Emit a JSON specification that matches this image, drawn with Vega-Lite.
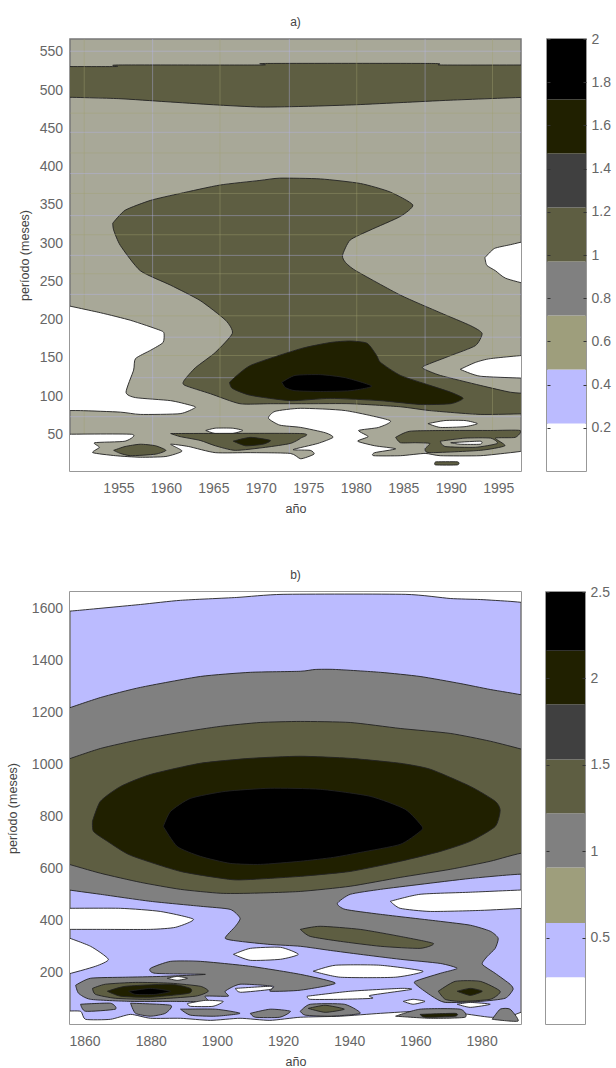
{"$schema":"https://vega.github.io/schema/vega-lite/v6.json","background":"white","padding":{"left":5,"top":14,"right":0,"bottom":0},
"config":{"view":{"stroke":"#777777","strokeWidth":1.5},"font":"Liberation Sans","axis":{"grid":false,"domain":false,"ticks":false,"labelFont":"Liberation Sans","titleFont":"Liberation Sans","labelFontSize":14,"titleFontSize":12.5,"labelColor":"#666666","titleColor":"#444444","titleFontWeight":"normal"},"title":{"fontSize":12,"fontWeight":"normal","color":"#444444","font":"Liberation Sans"}},
"datasets":{
"gridX":[{"year":1951.4,"tone":"o"},{"year":1958.6,"tone":"b"},{"year":1965.7,"tone":"o"},{"year":1973,"tone":"b"},{"year":1980.1,"tone":"o"},{"year":1987.3,"tone":"b"},{"year":1994.4,"tone":"o"}],
"gridY":[{"period":551,"tone":"b"},{"period":445,"tone":"b"},{"period":391,"tone":"b"},{"period":336,"tone":"b"},{"period":284,"tone":"b"},{"period":233,"tone":"b"},{"period":177,"tone":"b"},{"period":124,"tone":"b"},{"period":73,"tone":"b"},{"period":470,"tone":"o"},{"period":418,"tone":"o"},{"period":365,"tone":"o"},{"period":311,"tone":"o"},{"period":260,"tone":"o"},{"period":205,"tone":"o"},{"period":153,"tone":"o"}],
"a1":[
{"shape":"t","level":"olive","year":1949,"period":531},{"shape":"t","level":"olive","year":1954.8,"period":531},{"shape":"t","level":"olive","year":1955,"period":533},{"shape":"t","level":"olive","year":1970,"period":533},{"shape":"t","level":"olive","year":1970.5,"period":535},{"shape":"t","level":"olive","year":1988,"period":535},{"shape":"t","level":"olive","year":1989,"period":533},{"shape":"t","level":"olive","year":1998.5,"period":533},{"shape":"t","level":"olive","year":2003,"period":533},{"shape":"t","level":"olive","year":2003,"period":491},{"shape":"t","level":"olive","year":1998.5,"period":491},{"shape":"t","level":"olive","year":1990,"period":487},{"shape":"t","level":"olive","year":1985,"period":484},{"shape":"t","level":"olive","year":1980,"period":481},{"shape":"t","level":"olive","year":1975,"period":479},{"shape":"t","level":"olive","year":1970,"period":478},{"shape":"t","level":"olive","year":1965,"period":481},{"shape":"t","level":"olive","year":1960,"period":485},{"shape":"t","level":"olive","year":1955,"period":489},{"shape":"t","level":"olive","year":1949,"period":491},{"shape":"t","level":"olive","year":1945,"period":491},{"shape":"t","level":"olive","year":1945,"period":531},{"shape":"t","level":"olive","year":1949,"period":531},
{"shape":"m","level":"olive","year":1954.4,"period":326},{"shape":"m","level":"olive","year":1955.7,"period":343},{"shape":"m","level":"olive","year":1958.4,"period":356},{"shape":"m","level":"olive","year":1961.5,"period":365},{"shape":"m","level":"olive","year":1965.7,"period":376},{"shape":"m","level":"olive","year":1969.9,"period":382},{"shape":"m","level":"olive","year":1972,"period":385},{"shape":"m","level":"olive","year":1976.3,"period":384},{"shape":"m","level":"olive","year":1980.5,"period":378},{"shape":"m","level":"olive","year":1983.6,"period":367},{"shape":"m","level":"olive","year":1986,"period":350},{"shape":"m","level":"olive","year":1984.7,"period":335},{"shape":"m","level":"olive","year":1981.5,"period":317},{"shape":"m","level":"olive","year":1979.4,"period":304},{"shape":"m","level":"olive","year":1978.6,"period":284},{"shape":"m","level":"olive","year":1978.9,"period":275},{"shape":"m","level":"olive","year":1980,"period":264},{"shape":"m","level":"olive","year":1984.7,"period":232},{"shape":"m","level":"olive","year":1988.9,"period":209},{"shape":"m","level":"olive","year":1992.1,"period":192},{"shape":"m","level":"olive","year":1993.3,"period":182},{"shape":"m","level":"olive","year":1992.6,"period":166},{"shape":"m","level":"olive","year":1990,"period":153},{"shape":"m","level":"olive","year":1987.3,"period":140},{"shape":"m","level":"olive","year":1987.1,"period":136},{"shape":"m","level":"olive","year":1988.9,"period":127},{"shape":"m","level":"olive","year":1993.1,"period":114},{"shape":"m","level":"olive","year":1996.3,"period":105},{"shape":"m","level":"olive","year":1998.5,"period":103},{"shape":"m","level":"olive","year":2003,"period":100},{"shape":"m","level":"olive","year":2003,"period":77},{"shape":"m","level":"olive","year":1998.5,"period":77},{"shape":"m","level":"olive","year":1993.1,"period":76},{"shape":"m","level":"olive","year":1987.8,"period":81},{"shape":"m","level":"olive","year":1984.7,"period":86},{"shape":"m","level":"olive","year":1979.4,"period":90},{"shape":"m","level":"olive","year":1975.2,"period":90},{"shape":"m","level":"olive","year":1971,"period":90},{"shape":"m","level":"olive","year":1967.8,"period":90},{"shape":"m","level":"olive","year":1964.7,"period":103},{"shape":"m","level":"olive","year":1962,"period":114},{"shape":"m","level":"olive","year":1961.9,"period":120},{"shape":"m","level":"olive","year":1963.1,"period":137},{"shape":"m","level":"olive","year":1965.2,"period":157},{"shape":"m","level":"olive","year":1967,"period":182},{"shape":"m","level":"olive","year":1966.3,"period":199},{"shape":"m","level":"olive","year":1963.6,"period":225},{"shape":"m","level":"olive","year":1960.5,"period":245},{"shape":"m","level":"olive","year":1957.3,"period":264},{"shape":"m","level":"olive","year":1955.2,"period":297},{"shape":"m","level":"olive","year":1954.5,"period":317},{"shape":"m","level":"olive","year":1954.4,"period":326}
],
"a2":[
{"shape":"d","level":"deep","year":1966.7,"period":118},{"shape":"d","level":"deep","year":1968.9,"period":140},{"shape":"d","level":"deep","year":1974.2,"period":162},{"shape":"d","level":"deep","year":1977.3,"period":170},{"shape":"d","level":"deep","year":1979.4,"period":172},{"shape":"d","level":"deep","year":1981.2,"period":169},{"shape":"d","level":"deep","year":1982.2,"period":153},{"shape":"d","level":"deep","year":1982.6,"period":144},{"shape":"d","level":"deep","year":1984.7,"period":127},{"shape":"d","level":"deep","year":1987.8,"period":114},{"shape":"d","level":"deep","year":1990,"period":105},{"shape":"d","level":"deep","year":1991.3,"period":97},{"shape":"d","level":"deep","year":1990,"period":90},{"shape":"d","level":"deep","year":1986.8,"period":89},{"shape":"d","level":"deep","year":1982.6,"period":94},{"shape":"d","level":"deep","year":1977.3,"period":97},{"shape":"d","level":"deep","year":1973.1,"period":94},{"shape":"d","level":"deep","year":1968.9,"period":101},{"shape":"d","level":"deep","year":1967,"period":110},{"shape":"d","level":"deep","year":1966.7,"period":118},
{"shape":"k","level":"black","year":1972.2,"period":118},{"shape":"k","level":"black","year":1973.6,"period":127},{"shape":"k","level":"black","year":1976.3,"period":128},{"shape":"k","level":"black","year":1978.9,"period":124},{"shape":"k","level":"black","year":1981.7,"period":113},{"shape":"k","level":"black","year":1979.4,"period":107},{"shape":"k","level":"black","year":1976.3,"period":106},{"shape":"k","level":"black","year":1973.6,"period":107},{"shape":"k","level":"black","year":1972.6,"period":111},{"shape":"k","level":"black","year":1972.2,"period":118},
{"shape":"wl","level":"white","year":1949,"period":220},{"shape":"wl","level":"white","year":1953.1,"period":209},{"shape":"wl","level":"white","year":1956.3,"period":199},{"shape":"wl","level":"white","year":1959.4,"period":186},{"shape":"wl","level":"white","year":1959.8,"period":182},{"shape":"wl","level":"white","year":1959.7,"period":170},{"shape":"wl","level":"white","year":1958.4,"period":160},{"shape":"wl","level":"white","year":1956.8,"period":149},{"shape":"wl","level":"white","year":1956.6,"period":134},{"shape":"wl","level":"white","year":1955.8,"period":105},{"shape":"wl","level":"white","year":1956.8,"period":98},{"shape":"wl","level":"white","year":1960.5,"period":94},{"shape":"wl","level":"white","year":1962.6,"period":88},{"shape":"wl","level":"white","year":1963.1,"period":85},{"shape":"wl","level":"white","year":1961.5,"period":77},{"shape":"wl","level":"white","year":1957.3,"period":76},{"shape":"wl","level":"white","year":1955.2,"period":79},{"shape":"wl","level":"white","year":1951,"period":81},{"shape":"wl","level":"white","year":1949,"period":81},{"shape":"wl","level":"white","year":1945,"period":81},{"shape":"wl","level":"white","year":1945,"period":225},{"shape":"wl","level":"white","year":1949,"period":220},
{"shape":"wb","level":"white","year":1949,"period":50},{"shape":"wb","level":"white","year":1956.4,"period":50},{"shape":"wb","level":"white","year":1955.7,"period":41},{"shape":"wb","level":"white","year":1952.5,"period":39},{"shape":"wb","level":"white","year":1953,"period":33},{"shape":"wb","level":"white","year":1952.3,"period":26},{"shape":"wb","level":"white","year":1954.7,"period":22},{"shape":"wb","level":"white","year":1957.3,"period":20},{"shape":"wb","level":"white","year":1960,"period":21},{"shape":"wb","level":"white","year":1961.7,"period":28},{"shape":"wb","level":"white","year":1960.5,"period":37},{"shape":"wb","level":"white","year":1962.4,"period":34},{"shape":"wb","level":"white","year":1965.2,"period":26},{"shape":"wb","level":"white","year":1968.9,"period":26},{"shape":"wb","level":"white","year":1973.1,"period":25},{"shape":"wb","level":"white","year":1974.2,"period":18},{"shape":"wb","level":"white","year":1975.6,"period":24},{"shape":"wb","level":"white","year":1975.2,"period":29},{"shape":"wb","level":"white","year":1973.4,"period":30},{"shape":"wb","level":"white","year":1976,"period":38},{"shape":"wb","level":"white","year":1977.6,"period":46},{"shape":"wb","level":"white","year":1976.8,"period":52},{"shape":"wb","level":"white","year":1974.2,"period":59},{"shape":"wb","level":"white","year":1972,"period":62},{"shape":"wb","level":"white","year":1970.8,"period":71},{"shape":"wb","level":"white","year":1971.5,"period":80},{"shape":"wb","level":"white","year":1974.2,"period":84},{"shape":"wb","level":"white","year":1978.9,"period":81},{"shape":"wb","level":"white","year":1983.6,"period":68},{"shape":"wb","level":"white","year":1982.4,"period":59},{"shape":"wb","level":"white","year":1980.3,"period":55},{"shape":"wb","level":"white","year":1981.3,"period":47},{"shape":"wb","level":"white","year":1980.2,"period":41},{"shape":"wb","level":"white","year":1982,"period":35},{"shape":"wb","level":"white","year":1984.2,"period":31},{"shape":"wb","level":"white","year":1982,"period":26},{"shape":"wb","level":"white","year":1981.9,"period":22},{"shape":"wb","level":"white","year":1984.7,"period":22},{"shape":"wb","level":"white","year":1987.3,"period":25},{"shape":"wb","level":"white","year":1988.9,"period":22},{"shape":"wb","level":"white","year":1993.1,"period":22},{"shape":"wb","level":"white","year":1996.3,"period":26},{"shape":"wb","level":"white","year":1998.5,"period":29},{"shape":"wb","level":"white","year":2003,"period":31},{"shape":"wb","level":"white","year":2003,"period":-10},{"shape":"wb","level":"white","year":1945,"period":-10},{"shape":"wb","level":"white","year":1945,"period":50},{"shape":"wb","level":"white","year":1949,"period":50},
{"shape":"w1","level":"white","year":1964.2,"period":55},{"shape":"w1","level":"white","year":1965.2,"period":58},{"shape":"w1","level":"white","year":1967,"period":58},{"shape":"w1","level":"white","year":1968.1,"period":55},{"shape":"w1","level":"white","year":1967,"period":51},{"shape":"w1","level":"white","year":1965.2,"period":51},{"shape":"w1","level":"white","year":1964.2,"period":55},
{"shape":"w2","level":"white","year":1987.6,"period":64},{"shape":"w2","level":"white","year":1989.4,"period":68},{"shape":"w2","level":"white","year":1991.5,"period":68},{"shape":"w2","level":"white","year":1992.8,"period":64},{"shape":"w2","level":"white","year":1991.5,"period":60},{"shape":"w2","level":"white","year":1988.9,"period":59},{"shape":"w2","level":"white","year":1987.6,"period":64},
{"shape":"w3","level":"white","year":1991,"period":135},{"shape":"w3","level":"white","year":1992.6,"period":144},{"shape":"w3","level":"white","year":1994.2,"period":149},{"shape":"w3","level":"white","year":1998.5,"period":154},{"shape":"w3","level":"white","year":2003,"period":155},{"shape":"w3","level":"white","year":2003,"period":120},{"shape":"w3","level":"white","year":1998.5,"period":123},{"shape":"w3","level":"white","year":1993.1,"period":126},{"shape":"w3","level":"white","year":1991,"period":135},
{"shape":"w4","level":"white","year":1993.6,"period":281},{"shape":"w4","level":"white","year":1994.6,"period":293},{"shape":"w4","level":"white","year":1996.3,"period":298},{"shape":"w4","level":"white","year":1998.5,"period":304},{"shape":"w4","level":"white","year":2003,"period":310},{"shape":"w4","level":"white","year":2003,"period":235},{"shape":"w4","level":"white","year":1998.5,"period":245},{"shape":"w4","level":"white","year":1995.8,"period":254},{"shape":"w4","level":"white","year":1994.7,"period":264},{"shape":"w4","level":"white","year":1993.8,"period":271},{"shape":"w4","level":"white","year":1993.6,"period":281},
{"shape":"o1","level":"olive","year":1954.5,"period":29},{"shape":"o1","level":"olive","year":1955.7,"period":34},{"shape":"o1","level":"olive","year":1957.3,"period":37},{"shape":"o1","level":"olive","year":1958.9,"period":35},{"shape":"o1","level":"olive","year":1960,"period":29},{"shape":"o1","level":"olive","year":1958.9,"period":24},{"shape":"o1","level":"olive","year":1956.3,"period":22},{"shape":"o1","level":"olive","year":1955.2,"period":25},{"shape":"o1","level":"olive","year":1954.5,"period":29},
{"shape":"o2","level":"olive","year":1960.5,"period":51},{"shape":"o2","level":"olive","year":1974.2,"period":51},{"shape":"o2","level":"olive","year":1974.2,"period":45},{"shape":"o2","level":"olive","year":1973.1,"period":38},{"shape":"o2","level":"olive","year":1970.5,"period":33},{"shape":"o2","level":"olive","year":1967.3,"period":29},{"shape":"o2","level":"olive","year":1965.2,"period":35},{"shape":"o2","level":"olive","year":1963.6,"period":42},{"shape":"o2","level":"olive","year":1961.5,"period":47},{"shape":"o2","level":"olive","year":1960.5,"period":51},
{"shape":"d2","level":"deep","year":1967.1,"period":41},{"shape":"d2","level":"deep","year":1968.9,"period":46},{"shape":"d2","level":"deep","year":1971,"period":42},{"shape":"d2","level":"deep","year":1970.2,"period":37},{"shape":"d2","level":"deep","year":1968.4,"period":35},{"shape":"d2","level":"deep","year":1967.1,"period":41},
{"shape":"o3","level":"olive","year":1984.2,"period":46},{"shape":"o3","level":"olive","year":1985.7,"period":54},{"shape":"o3","level":"olive","year":1990,"period":55},{"shape":"o3","level":"olive","year":1994.2,"period":55},{"shape":"o3","level":"olive","year":1997.3,"period":55},{"shape":"o3","level":"olive","year":1996.8,"period":46},{"shape":"o3","level":"olive","year":1994.7,"period":45},{"shape":"o3","level":"olive","year":1995.7,"period":35},{"shape":"o3","level":"olive","year":1993.1,"period":29},{"shape":"o3","level":"olive","year":1987.8,"period":26},{"shape":"o3","level":"olive","year":1987.3,"period":31},{"shape":"o3","level":"olive","year":1987.8,"period":38},{"shape":"o3","level":"olive","year":1986.3,"period":39},{"shape":"o3","level":"olive","year":1984.7,"period":39},{"shape":"o3","level":"olive","year":1984.2,"period":46},
{"shape":"b3","level":"paper","year":1988.9,"period":41},{"shape":"b3","level":"paper","year":1991.5,"period":45},{"shape":"b3","level":"paper","year":1994.2,"period":45},{"shape":"b3","level":"paper","year":1994.9,"period":38},{"shape":"b3","level":"paper","year":1992.6,"period":33},{"shape":"b3","level":"paper","year":1989.4,"period":34},{"shape":"b3","level":"paper","year":1988.9,"period":41},
{"shape":"w5","level":"white","year":1990,"period":39},{"shape":"w5","level":"white","year":1993.1,"period":41},{"shape":"w5","level":"white","year":1993.1,"period":37},{"shape":"w5","level":"white","year":1991,"period":37},{"shape":"w5","level":"white","year":1990,"period":39},
{"shape":"o4","level":"olive","year":1988.4,"period":14},{"shape":"o4","level":"olive","year":1990.7,"period":14},{"shape":"o4","level":"olive","year":1990.7,"period":10},{"shape":"o4","level":"olive","year":1988.4,"period":10},{"shape":"o4","level":"olive","year":1988.4,"period":14}
],
"b":[
{"shape":"wt","level":"white","year":1854,"period":1588},{"shape":"wt","level":"white","year":1857.9,"period":1592},{"shape":"wt","level":"white","year":1876.9,"period":1615},{"shape":"wt","level":"white","year":1889,"period":1631},{"shape":"wt","level":"white","year":1906,"period":1642},{"shape":"wt","level":"white","year":1920,"period":1654},{"shape":"wt","level":"white","year":1956.9,"period":1654},{"shape":"wt","level":"white","year":1970.5,"period":1638},{"shape":"wt","level":"white","year":1979.6,"period":1634},{"shape":"wt","level":"white","year":1988.6,"period":1627},{"shape":"wt","level":"white","year":1993,"period":1622},{"shape":"wt","level":"white","year":2002,"period":1610},{"shape":"wt","level":"white","year":2002,"period":1690},{"shape":"wt","level":"white","year":1845,"period":1690},{"shape":"wt","level":"white","year":1845,"period":1575},{"shape":"wt","level":"white","year":1854,"period":1588},
{"shape":"g","level":"gray","year":1854,"period":1211},{"shape":"g","level":"gray","year":1864.8,"period":1257},{"shape":"g","level":"gray","year":1876.9,"period":1296},{"shape":"g","level":"gray","year":1895,"period":1338},{"shape":"g","level":"gray","year":1910.1,"period":1354},{"shape":"g","level":"gray","year":1925.2,"period":1358},{"shape":"g","level":"gray","year":1929.7,"period":1365},{"shape":"g","level":"gray","year":1935.8,"period":1365},{"shape":"g","level":"gray","year":1949.4,"period":1354},{"shape":"g","level":"gray","year":1961.4,"period":1338},{"shape":"g","level":"gray","year":1973.5,"period":1311},{"shape":"g","level":"gray","year":1982.6,"period":1288},{"shape":"g","level":"gray","year":1993,"period":1265},{"shape":"g","level":"gray","year":2002,"period":1235},{"shape":"g","level":"gray","year":2002,"period":560},{"shape":"g","level":"gray","year":1993,"period":578},{"shape":"g","level":"gray","year":1976.6,"period":561},{"shape":"g","level":"gray","year":1961.4,"period":538},{"shape":"g","level":"gray","year":1949.4,"period":519},{"shape":"g","level":"gray","year":1940.3,"period":500},{"shape":"g","level":"gray","year":1936.4,"period":465},{"shape":"g","level":"gray","year":1938.8,"period":442},{"shape":"g","level":"gray","year":1949.4,"period":423},{"shape":"g","level":"gray","year":1967.5,"period":396},{"shape":"g","level":"gray","year":1976.6,"period":381},{"shape":"g","level":"gray","year":1982.6,"period":358},{"shape":"g","level":"gray","year":1985,"period":331},{"shape":"g","level":"gray","year":1984.1,"period":292},{"shape":"g","level":"gray","year":1981.7,"period":261},{"shape":"g","level":"gray","year":1980.2,"period":231},{"shape":"g","level":"gray","year":1984.1,"period":196},{"shape":"g","level":"gray","year":1988.6,"period":154},{"shape":"g","level":"gray","year":1989.5,"period":134},{"shape":"g","level":"gray","year":1987.1,"period":100},{"shape":"g","level":"gray","year":1979.6,"period":88},{"shape":"g","level":"gray","year":1969,"period":84},{"shape":"g","level":"gray","year":1965,"period":108},{"shape":"g","level":"gray","year":1960.8,"period":146},{"shape":"g","level":"gray","year":1959.9,"period":165},{"shape":"g","level":"gray","year":1967.5,"period":196},{"shape":"g","level":"gray","year":1972.6,"period":215},{"shape":"g","level":"gray","year":1967.5,"period":234},{"shape":"g","level":"gray","year":1955.4,"period":250},{"shape":"g","level":"gray","year":1943.3,"period":269},{"shape":"g","level":"gray","year":1934.3,"period":284},{"shape":"g","level":"gray","year":1925.2,"period":300},{"shape":"g","level":"gray","year":1916.1,"period":307},{"shape":"g","level":"gray","year":1907,"period":319},{"shape":"g","level":"gray","year":1902.5,"period":331},{"shape":"g","level":"gray","year":1905.6,"period":377},{"shape":"g","level":"gray","year":1907,"period":408},{"shape":"g","level":"gray","year":1904,"period":442},{"shape":"g","level":"gray","year":1895,"period":454},{"shape":"g","level":"gray","year":1879.9,"period":473},{"shape":"g","level":"gray","year":1864.8,"period":500},{"shape":"g","level":"gray","year":1854,"period":519},{"shape":"g","level":"gray","year":1845,"period":540},{"shape":"g","level":"gray","year":1845,"period":1175},{"shape":"g","level":"gray","year":1854,"period":1211},
{"shape":"o","level":"olive","year":1854,"period":1015},{"shape":"o","level":"olive","year":1864.8,"period":1061},{"shape":"o","level":"olive","year":1876.9,"period":1096},{"shape":"o","level":"olive","year":1889,"period":1123},{"shape":"o","level":"olive","year":1901,"period":1146},{"shape":"o","level":"olive","year":1913.1,"period":1161},{"shape":"o","level":"olive","year":1925.2,"period":1165},{"shape":"o","level":"olive","year":1940.3,"period":1161},{"shape":"o","level":"olive","year":1955.4,"period":1138},{"shape":"o","level":"olive","year":1970.5,"period":1119},{"shape":"o","level":"olive","year":1982.6,"period":1089},{"shape":"o","level":"olive","year":1993,"period":1055},{"shape":"o","level":"olive","year":2002,"period":1020},{"shape":"o","level":"olive","year":2002,"period":640},{"shape":"o","level":"olive","year":1993,"period":660},{"shape":"o","level":"olive","year":1982.6,"period":627},{"shape":"o","level":"olive","year":1970.5,"period":596},{"shape":"o","level":"olive","year":1955.4,"period":565},{"shape":"o","level":"olive","year":1940.3,"period":531},{"shape":"o","level":"olive","year":1925.2,"period":511},{"shape":"o","level":"olive","year":1910.1,"period":504},{"shape":"o","level":"olive","year":1901,"period":504},{"shape":"o","level":"olive","year":1889,"period":519},{"shape":"o","level":"olive","year":1876.9,"period":546},{"shape":"o","level":"olive","year":1864.8,"period":581},{"shape":"o","level":"olive","year":1854,"period":620},{"shape":"o","level":"olive","year":1845,"period":650},{"shape":"o","level":"olive","year":1845,"period":975},{"shape":"o","level":"olive","year":1854,"period":1015},
{"shape":"d","level":"deep","year":1862.4,"period":781},{"shape":"d","level":"deep","year":1864.8,"period":858},{"shape":"d","level":"deep","year":1870.9,"period":915},{"shape":"d","level":"deep","year":1879.9,"period":961},{"shape":"d","level":"deep","year":1895,"period":1004},{"shape":"d","level":"deep","year":1910.1,"period":1023},{"shape":"d","level":"deep","year":1925.2,"period":1031},{"shape":"d","level":"deep","year":1940.3,"period":1023},{"shape":"d","level":"deep","year":1955.4,"period":1004},{"shape":"d","level":"deep","year":1964.5,"period":981},{"shape":"d","level":"deep","year":1976.6,"period":915},{"shape":"d","level":"deep","year":1984.1,"period":858},{"shape":"d","level":"deep","year":1985.6,"period":823},{"shape":"d","level":"deep","year":1984.1,"period":761},{"shape":"d","level":"deep","year":1976.6,"period":704},{"shape":"d","level":"deep","year":1967.5,"period":665},{"shape":"d","level":"deep","year":1955.4,"period":627},{"shape":"d","level":"deep","year":1940.3,"period":588},{"shape":"d","level":"deep","year":1925.2,"period":569},{"shape":"d","level":"deep","year":1910.1,"period":557},{"shape":"d","level":"deep","year":1904,"period":557},{"shape":"d","level":"deep","year":1889,"period":588},{"shape":"d","level":"deep","year":1873.9,"period":650},{"shape":"d","level":"deep","year":1866.9,"period":704},{"shape":"d","level":"deep","year":1862.7,"period":742},{"shape":"d","level":"deep","year":1862.4,"period":781},
{"shape":"k","level":"black","year":1883.8,"period":761},{"shape":"k","level":"black","year":1886,"period":819},{"shape":"k","level":"black","year":1892,"period":869},{"shape":"k","level":"black","year":1902.5,"period":896},{"shape":"k","level":"black","year":1916.1,"period":908},{"shape":"k","level":"black","year":1931.2,"period":904},{"shape":"k","level":"black","year":1946.3,"period":877},{"shape":"k","level":"black","year":1956.9,"period":827},{"shape":"k","level":"black","year":1962,"period":761},{"shape":"k","level":"black","year":1961.4,"period":742},{"shape":"k","level":"black","year":1955.4,"period":692},{"shape":"k","level":"black","year":1943.3,"period":661},{"shape":"k","level":"black","year":1935.2,"period":642},{"shape":"k","level":"black","year":1925.2,"period":627},{"shape":"k","level":"black","year":1913.1,"period":615},{"shape":"k","level":"black","year":1904,"period":619},{"shape":"k","level":"black","year":1895,"period":646},{"shape":"k","level":"black","year":1888,"period":684},{"shape":"k","level":"black","year":1883.8,"period":761},
{"shape":"w1","level":"white","year":1854,"period":446},{"shape":"w1","level":"white","year":1870.9,"period":446},{"shape":"w1","level":"white","year":1882.9,"period":434},{"shape":"w1","level":"white","year":1892.9,"period":404},{"shape":"w1","level":"white","year":1887.5,"period":373},{"shape":"w1","level":"white","year":1879.9,"period":365},{"shape":"w1","level":"white","year":1864.8,"period":365},{"shape":"w1","level":"white","year":1854,"period":365},{"shape":"w1","level":"white","year":1845,"period":365},{"shape":"w1","level":"white","year":1845,"period":446},{"shape":"w1","level":"white","year":1854,"period":446},
{"shape":"w2","level":"white","year":1854,"period":338},{"shape":"w2","level":"white","year":1861.8,"period":300},{"shape":"w2","level":"white","year":1867.2,"period":250},{"shape":"w2","level":"white","year":1863.3,"period":223},{"shape":"w2","level":"white","year":1854,"period":190},{"shape":"w2","level":"white","year":1845,"period":170},{"shape":"w2","level":"white","year":1845,"period":360},{"shape":"w2","level":"white","year":1854,"period":338},
{"shape":"w3","level":"white","year":1952.4,"period":473},{"shape":"w3","level":"white","year":1961.4,"period":500},{"shape":"w3","level":"white","year":1976.6,"period":508},{"shape":"w3","level":"white","year":1993,"period":517},{"shape":"w3","level":"white","year":2002,"period":520},{"shape":"w3","level":"white","year":2002,"period":446},{"shape":"w3","level":"white","year":1993,"period":446},{"shape":"w3","level":"white","year":1979.6,"period":438},{"shape":"w3","level":"white","year":1964.5,"period":434},{"shape":"w3","level":"white","year":1955.4,"period":446},{"shape":"w3","level":"white","year":1952.4,"period":473},
{"shape":"w4","level":"white","year":1905,"period":269},{"shape":"w4","level":"white","year":1910.1,"period":292},{"shape":"w4","level":"white","year":1919.2,"period":296},{"shape":"w4","level":"white","year":1924.6,"period":269},{"shape":"w4","level":"white","year":1919.2,"period":250},{"shape":"w4","level":"white","year":1910.1,"period":246},{"shape":"w4","level":"white","year":1905,"period":269},
{"shape":"w5","level":"white","year":1929.1,"period":204},{"shape":"w5","level":"white","year":1935.8,"period":227},{"shape":"w5","level":"white","year":1949.4,"period":227},{"shape":"w5","level":"white","year":1962.3,"period":204},{"shape":"w5","level":"white","year":1953.9,"period":181},{"shape":"w5","level":"white","year":1937.3,"period":181},{"shape":"w5","level":"white","year":1929.1,"period":204},
{"shape":"w6","level":"white","year":1927.3,"period":108},{"shape":"w6","level":"white","year":1940.3,"period":127},{"shape":"w6","level":"white","year":1955.4,"period":138},{"shape":"w6","level":"white","year":1958.7,"period":134},{"shape":"w6","level":"white","year":1946.3,"period":111},{"shape":"w6","level":"white","year":1947,"period":100},{"shape":"w6","level":"white","year":1937.3,"period":96},{"shape":"w6","level":"white","year":1928.2,"period":96},{"shape":"w6","level":"white","year":1927.3,"period":108},
{"shape":"w7","level":"white","year":1956.3,"period":88},{"shape":"w7","level":"white","year":1959.3,"period":96},{"shape":"w7","level":"white","year":1962.9,"period":88},{"shape":"w7","level":"white","year":1959.3,"period":77},{"shape":"w7","level":"white","year":1956.3,"period":88},
{"shape":"w8","level":"white","year":1972.6,"period":77},{"shape":"w8","level":"white","year":1976.6,"period":84},{"shape":"w8","level":"white","year":1982.6,"period":77},{"shape":"w8","level":"white","year":1976.6,"period":65},{"shape":"w8","level":"white","year":1972.6,"period":77},
{"shape":"g2","level":"gray","year":1857.3,"period":150},{"shape":"g2","level":"gray","year":1861.8,"period":177},{"shape":"g2","level":"gray","year":1872.4,"period":181},{"shape":"g2","level":"gray","year":1882.9,"period":184},{"shape":"g2","level":"gray","year":1896.5,"period":192},{"shape":"g2","level":"gray","year":1881.4,"period":196},{"shape":"g2","level":"gray","year":1879.9,"period":215},{"shape":"g2","level":"gray","year":1886,"period":242},{"shape":"g2","level":"gray","year":1895,"period":242},{"shape":"g2","level":"gray","year":1910.1,"period":223},{"shape":"g2","level":"gray","year":1925.2,"period":192},{"shape":"g2","level":"gray","year":1935.8,"period":158},{"shape":"g2","level":"gray","year":1925.2,"period":131},{"shape":"g2","level":"gray","year":1916.1,"period":127},{"shape":"g2","level":"gray","year":1917,"period":146},{"shape":"g2","level":"gray","year":1907,"period":154},{"shape":"g2","level":"gray","year":1902.5,"period":127},{"shape":"g2","level":"gray","year":1903.4,"period":108},{"shape":"g2","level":"gray","year":1896.5,"period":108},{"shape":"g2","level":"gray","year":1897.1,"period":88},{"shape":"g2","level":"gray","year":1886,"period":88},{"shape":"g2","level":"gray","year":1873.9,"period":88},{"shape":"g2","level":"gray","year":1861.8,"period":96},{"shape":"g2","level":"gray","year":1858.2,"period":119},{"shape":"g2","level":"gray","year":1857.3,"period":150},
{"shape":"w9","level":"white","year":1891.1,"period":80},{"shape":"w9","level":"white","year":1896.5,"period":92},{"shape":"w9","level":"white","year":1901.9,"period":88},{"shape":"w9","level":"white","year":1898.8,"period":69},{"shape":"w9","level":"white","year":1892,"period":69},{"shape":"w9","level":"white","year":1891.1,"period":80},
{"shape":"w10","level":"white","year":1885,"period":177},{"shape":"w10","level":"white","year":1888,"period":184},{"shape":"w10","level":"white","year":1891.1,"period":177},{"shape":"w10","level":"white","year":1888,"period":169},{"shape":"w10","level":"white","year":1885,"period":177},
{"shape":"w11","level":"white","year":1905.6,"period":138},{"shape":"w11","level":"white","year":1916.1,"period":146},{"shape":"w11","level":"white","year":1916.1,"period":134},{"shape":"w11","level":"white","year":1907.1,"period":123},{"shape":"w11","level":"white","year":1905.6,"period":138},
{"shape":"ol","level":"olive","year":1862.4,"period":138},{"shape":"ol","level":"olive","year":1866.3,"period":154},{"shape":"ol","level":"olive","year":1875.4,"period":161},{"shape":"ol","level":"olive","year":1886,"period":158},{"shape":"ol","level":"olive","year":1895,"period":146},{"shape":"ol","level":"olive","year":1897.4,"period":127},{"shape":"ol","level":"olive","year":1893.5,"period":108},{"shape":"ol","level":"olive","year":1879.9,"period":96},{"shape":"ol","level":"olive","year":1869.3,"period":100},{"shape":"ol","level":"olive","year":1863.3,"period":115},{"shape":"ol","level":"olive","year":1862.4,"period":138},
{"shape":"dl","level":"deep","year":1866.9,"period":127},{"shape":"dl","level":"deep","year":1872.4,"period":146},{"shape":"dl","level":"deep","year":1886,"period":154},{"shape":"dl","level":"deep","year":1892,"period":138},{"shape":"dl","level":"deep","year":1891.4,"period":119},{"shape":"dl","level":"deep","year":1879.9,"period":104},{"shape":"dl","level":"deep","year":1870.9,"period":108},{"shape":"dl","level":"deep","year":1866.9,"period":127},
{"shape":"kl","level":"black","year":1873.3,"period":127},{"shape":"kl","level":"black","year":1879.9,"period":138},{"shape":"kl","level":"black","year":1886,"period":127},{"shape":"kl","level":"black","year":1881.4,"period":115},{"shape":"kl","level":"black","year":1875.4,"period":115},{"shape":"kl","level":"black","year":1873.3,"period":127},
{"shape":"or","level":"olive","year":1966.9,"period":127},{"shape":"or","level":"olive","year":1972,"period":165},{"shape":"or","level":"olive","year":1979.6,"period":165},{"shape":"or","level":"olive","year":1985.6,"period":127},{"shape":"or","level":"olive","year":1982.6,"period":96},{"shape":"or","level":"olive","year":1973.6,"period":88},{"shape":"or","level":"olive","year":1969,"period":96},{"shape":"or","level":"olive","year":1966.9,"period":127},
{"shape":"dr","level":"deep","year":1972.6,"period":127},{"shape":"dr","level":"deep","year":1976.6,"period":138},{"shape":"dr","level":"deep","year":1980.2,"period":127},{"shape":"dr","level":"deep","year":1976.6,"period":111},{"shape":"dr","level":"deep","year":1972.6,"period":127},
{"shape":"oa","level":"olive","year":1925.2,"period":365},{"shape":"oa","level":"olive","year":1931.2,"period":377},{"shape":"oa","level":"olive","year":1943.3,"period":365},{"shape":"oa","level":"olive","year":1955.4,"period":338},{"shape":"oa","level":"olive","year":1965.4,"period":311},{"shape":"oa","level":"olive","year":1961.4,"period":292},{"shape":"oa","level":"olive","year":1949.4,"period":300},{"shape":"oa","level":"olive","year":1937.3,"period":319},{"shape":"oa","level":"olive","year":1928.2,"period":338},{"shape":"oa","level":"olive","year":1925.2,"period":365},
{"shape":"wb","level":"white","year":1854,"period":50},{"shape":"wb","level":"white","year":1858.8,"period":50},{"shape":"wb","level":"white","year":1860.3,"period":19},{"shape":"wb","level":"white","year":1867.8,"period":19},{"shape":"wb","level":"white","year":1873.9,"period":38},{"shape":"wb","level":"white","year":1879.9,"period":23},{"shape":"wb","level":"white","year":1889,"period":23},{"shape":"wb","level":"white","year":1898,"period":15},{"shape":"wb","level":"white","year":1907,"period":23},{"shape":"wb","level":"white","year":1916,"period":15},{"shape":"wb","level":"white","year":1925.2,"period":27},{"shape":"wb","level":"white","year":1937.3,"period":31},{"shape":"wb","level":"white","year":1949.4,"period":42},{"shape":"wb","level":"white","year":1961.4,"period":50},{"shape":"wb","level":"white","year":1973.5,"period":42},{"shape":"wb","level":"white","year":1982.6,"period":27},{"shape":"wb","level":"white","year":1988.6,"period":31},{"shape":"wb","level":"white","year":1993,"period":50},{"shape":"wb","level":"white","year":2002,"period":60},{"shape":"wb","level":"white","year":2002,"period":-20},{"shape":"wb","level":"white","year":1845,"period":-20},{"shape":"wb","level":"white","year":1845,"period":50},{"shape":"wb","level":"white","year":1854,"period":50},
{"shape":"s1","level":"gray","year":1858.8,"period":77},{"shape":"s1","level":"gray","year":1867.8,"period":81},{"shape":"s1","level":"gray","year":1869.3,"period":58},{"shape":"s1","level":"gray","year":1860.3,"period":50},{"shape":"s1","level":"gray","year":1858.8,"period":77},
{"shape":"s2","level":"gray","year":1873.9,"period":81},{"shape":"s2","level":"gray","year":1886,"period":73},{"shape":"s2","level":"gray","year":1884.4,"period":42},{"shape":"s2","level":"gray","year":1879.9,"period":31},{"shape":"s2","level":"gray","year":1875.4,"period":42},{"shape":"s2","level":"gray","year":1873.9,"period":81},
{"shape":"s3","level":"gray","year":1889,"period":58},{"shape":"s3","level":"gray","year":1899.6,"period":58},{"shape":"s3","level":"gray","year":1907,"period":42},{"shape":"s3","level":"gray","year":1899.6,"period":31},{"shape":"s3","level":"gray","year":1892,"period":35},{"shape":"s3","level":"gray","year":1889,"period":58},
{"shape":"s4","level":"gray","year":1910.1,"period":42},{"shape":"s4","level":"gray","year":1916.1,"period":58},{"shape":"s4","level":"gray","year":1922.2,"period":50},{"shape":"s4","level":"gray","year":1919,"period":27},{"shape":"s4","level":"gray","year":1911.6,"period":27},{"shape":"s4","level":"gray","year":1910.1,"period":42},
{"shape":"s5","level":"gray","year":1925.2,"period":50},{"shape":"s5","level":"gray","year":1928.2,"period":77},{"shape":"s5","level":"gray","year":1938.5,"period":77},{"shape":"s5","level":"gray","year":1943.3,"period":42},{"shape":"s5","level":"gray","year":1934.3,"period":31},{"shape":"s5","level":"gray","year":1926.7,"period":35},{"shape":"s5","level":"gray","year":1925.2,"period":50},
{"shape":"s5o","level":"olive","year":1927.6,"period":61},{"shape":"s5o","level":"olive","year":1932.7,"period":73},{"shape":"s5o","level":"olive","year":1938.5,"period":58},{"shape":"s5o","level":"olive","year":1932.7,"period":46},{"shape":"s5o","level":"olive","year":1927.6,"period":61},
{"shape":"s6","level":"gray","year":1954,"period":31},{"shape":"s6","level":"gray","year":1961.4,"period":58},{"shape":"s6","level":"gray","year":1973.5,"period":58},{"shape":"s6","level":"gray","year":1975,"period":27},{"shape":"s6","level":"gray","year":1964.5,"period":23},{"shape":"s6","level":"gray","year":1954,"period":31},
{"shape":"s6d","level":"deep","year":1961.4,"period":38},{"shape":"s6d","level":"deep","year":1972,"period":42},{"shape":"s6d","level":"deep","year":1972,"period":31},{"shape":"s6d","level":"deep","year":1963,"period":27},{"shape":"s6d","level":"deep","year":1961.4,"period":38},
{"shape":"s7","level":"gray","year":1983.2,"period":19},{"shape":"s7","level":"gray","year":1985.6,"period":58},{"shape":"s7","level":"gray","year":1988.6,"period":58},{"shape":"s7","level":"gray","year":1991,"period":12},{"shape":"s7","level":"gray","year":1983.2,"period":19}
]},
"spacing":52,
"vconcat":[
{"hconcat":[
{"title":{"text":"a)","offset":10},"width":451,"height":432,"view":{"fill":"#a8a898"},
"encoding":{"x":{"field":"year","type":"quantitative","scale":{"domain":[1949.9,1997.4],"nice":false,"zero":false},"axis":{"title":"año","values":[1955,1960,1965,1970,1975,1980,1985,1990,1995],"format":"d","labelPadding":10,"titlePadding":7}},"y":{"field":"period","type":"quantitative","scale":{"domain":[2,567],"nice":false,"zero":false},"axis":{"title":"período (meses)","values":[50,100,150,200,250,300,350,400,450,500,550],"labelPadding":7.5,"titlePadding":8}}},
"layer":[
{"data":{"name":"a1"},"mark":{"type":"line","stroke":"#222222","strokeWidth":0.9,"clip":true,"interpolate":"cardinal","tension":0.4},"encoding":{"detail":{"field":"shape"},"order":{"value":null},"fill":{"field":"level","type":"nominal","legend":null,"scale":{"domain":["white","blue","beige","paper","gray","olive","dark","deep","black"],"range":["#ffffff","#bbbbff","#9e9e7c","#a8a898","#808080","#5e5e42","#404040","#202000","#000000"]}}}},
{"data":{"name":"gridX"},"mark":{"type":"rule","strokeWidth":1,"opacity":0.4},"encoding":{"y":null,"color":{"field":"tone","type":"nominal","legend":null,"scale":{"domain":["o","b"],"range":["#a0a070","#b4b4ee"]}}}},
{"data":{"name":"gridY"},"mark":{"type":"rule","strokeWidth":1,"opacity":0.4},"encoding":{"x":null,"color":{"field":"tone","type":"nominal","legend":null,"scale":{"domain":["o","b"],"range":["#a0a070","#b4b4ee"]}}}},
{"data":{"name":"a2"},"mark":{"type":"line","stroke":"#222222","strokeWidth":0.9,"clip":true,"interpolate":"cardinal","tension":0.4},"encoding":{"detail":{"field":"shape"},"order":{"value":null},"fill":{"field":"level","type":"nominal","legend":null,"scale":{"domain":["white","blue","beige","paper","gray","olive","dark","deep","black"],"range":["#ffffff","#bbbbff","#9e9e7c","#a8a898","#808080","#5e5e42","#404040","#202000","#000000"]}}}}
]},
{"width":39,"height":432,"data":{"values":[{"level":"white","low":0,"high":0.22},{"level":"blue","low":0.22,"high":0.47},{"level":"beige","low":0.47,"high":0.72},{"level":"gray","low":0.72,"high":0.97},{"level":"olive","low":0.97,"high":1.22},{"level":"dark","low":1.22,"high":1.47},{"level":"deep","low":1.47,"high":1.72},{"level":"black","low":1.72,"high":2}]},
"mark":{"type":"rect"},"encoding":{"y":{"field":"low","type":"quantitative","scale":{"domain":[0,2],"nice":false},"axis":{"orient":"right","title":null,"values":[0.2,0.4,0.6,0.8,1,1.2,1.4,1.6,1.8,2],"format":"~g","zindex":1,"ticks":true,"tickSize":-39,"tickDash":[3,33,3],"tickColor":"#333333","labelPadding":44,"labelFontSize":14,"labelFlush":false}},"y2":{"field":"high"},"fill":{"field":"level","type":"nominal","legend":null,"scale":{"domain":["white","blue","beige","paper","gray","olive","dark","deep","black"],"range":["#ffffff","#bbbbff","#9e9e7c","#a8a898","#808080","#5e5e42","#404040","#202000","#000000"]}}}}
],"spacing":22},
{"hconcat":[
{"title":{"text":"b)","offset":10},"width":451,"height":432,"view":{"fill":"#bbbbff"},"data":{"name":"b"},
"mark":{"type":"line","stroke":"#222222","strokeWidth":0.9,"clip":true,"interpolate":"cardinal","tension":0.4},
"encoding":{"x":{"field":"year","type":"quantitative","scale":{"domain":[1855.6,1991.9],"nice":false,"zero":false},"axis":{"title":"año","values":[1860,1880,1900,1920,1940,1960,1980],"format":"d","labelPadding":10,"titlePadding":7}},"y":{"field":"period","type":"quantitative","scale":{"domain":[1,1663],"nice":false,"zero":false},"axis":{"title":"período (meses)","values":[200,400,600,800,1000,1200,1400,1600],"format":"d","labelPadding":7.5,"titlePadding":12}},"detail":{"field":"shape"},"order":{"value":null},"fill":{"field":"level","type":"nominal","legend":null,"scale":{"domain":["white","blue","beige","paper","gray","olive","dark","deep","black"],"range":["#ffffff","#bbbbff","#9e9e7c","#a8a898","#808080","#5e5e42","#404040","#202000","#000000"]}}}},
{"width":39,"height":432,"data":{"values":[{"level":"white","low":0,"high":0.27},{"level":"blue","low":0.27,"high":0.585},{"level":"beige","low":0.585,"high":0.905},{"level":"gray","low":0.905,"high":1.22},{"level":"olive","low":1.22,"high":1.53},{"level":"dark","low":1.53,"high":1.85},{"level":"deep","low":1.85,"high":2.16},{"level":"black","low":2.16,"high":2.5}]},
"mark":{"type":"rect"},"encoding":{"y":{"field":"low","type":"quantitative","scale":{"domain":[0,2.5],"nice":false},"axis":{"orient":"right","title":null,"values":[0.5,1,1.5,2,2.5],"format":"~g","zindex":1,"ticks":true,"tickSize":-39,"tickDash":[3,33,3],"tickColor":"#333333","labelPadding":44,"labelFontSize":14,"labelFlush":false}},"y2":{"field":"high"},"fill":{"field":"level","type":"nominal","legend":null,"scale":{"domain":["white","blue","beige","paper","gray","olive","dark","deep","black"],"range":["#ffffff","#bbbbff","#9e9e7c","#a8a898","#808080","#5e5e42","#404040","#202000","#000000"]}}}}
],"spacing":22}
]}
